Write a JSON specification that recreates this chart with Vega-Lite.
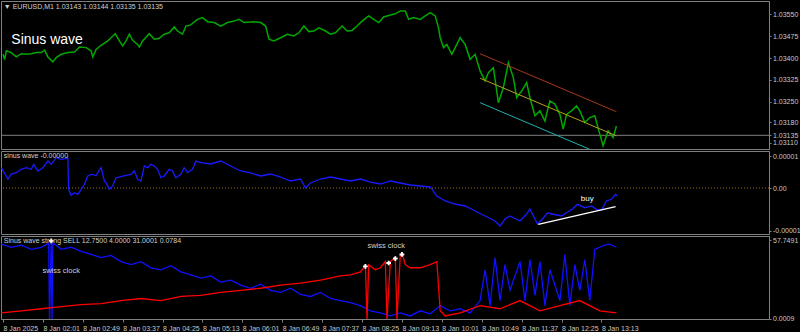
{
  "$schema": "https://vega.github.io/schema/vega-lite/v6.json",
  "background": "#000000",
  "padding": 0,
  "spacing": 2,
  "bounds": "flush",
  "config": {
    "view": {"stroke": "#808080", "fill": "#000000"},
    "axis": {"labelFont": "Liberation Sans", "labelFontSize": 7, "labelColor": "#c8c8c8", "tickColor": "#808080", "domainColor": "#808080", "grid": false, "title": null, "tickSize": 2, "labelPadding": 1.5, "labelOverlap": false, "labelFlush": false, "labelBound": false},
    "text": {"font": "Liberation Sans"}
  },
  "datasets": {
    "price": [
      {"t":73,"p":1.03413},{"t":75,"p":1.03395},{"t":77,"p":1.03425},{"t":83,"p":1.03419},{"t":89,"p":1.03404},{"t":95,"p":1.03415},{"t":101,"p":1.03413},{"t":107,"p":1.03415},{"t":113,"p":1.03419},{"t":119,"p":1.03419},{"t":123,"p":1.03427},{"t":127,"p":1.03404},{"t":133,"p":1.03387},{"t":137,"p":1.03402},{"t":143,"p":1.03413},{"t":151,"p":1.03419},{"t":159,"p":1.03421},{"t":165,"p":1.03438},{"t":173,"p":1.03436},{"t":179,"p":1.03425},{"t":181,"p":1.03404},{"t":185,"p":1.0343},{"t":191,"p":1.03444},{"t":199,"p":1.03459},{"t":208,"p":1.03484},{"t":213,"p":1.03459},{"t":217,"p":1.03442},{"t":221,"p":1.03459},{"t":225,"p":1.03482},{"t":229,"p":1.03461},{"t":235,"p":1.03447},{"t":237,"p":1.03438},{"t":241,"p":1.03459},{"t":249,"p":1.03484},{"t":255,"p":1.03465},{"t":261,"p":1.03468},{"t":267,"p":1.03482},{"t":273,"p":1.03487},{"t":279,"p":1.03507},{"t":283,"p":1.03493},{"t":289,"p":1.03482},{"t":293,"p":1.0351},{"t":299,"p":1.03514},{"t":307,"p":1.03533},{"t":313,"p":1.03539},{"t":319,"p":1.03525},{"t":327,"p":1.03522},{"t":335,"p":1.0351},{"t":343,"p":1.03522},{"t":351,"p":1.03527},{"t":357,"p":1.03533},{"t":363,"p":1.03522},{"t":375,"p":1.03525},{"t":383,"p":1.03522},{"t":389,"p":1.0351},{"t":393,"p":1.03465},{"t":399,"p":1.03459},{"t":407,"p":1.0347},{"t":415,"p":1.03482},{"t":423,"p":1.03476},{"t":429,"p":1.03487},{"t":435,"p":1.0351},{"t":441,"p":1.03491},{"t":447,"p":1.03493},{"t":453,"p":1.03504},{"t":461,"p":1.03493},{"t":467,"p":1.03482},{"t":473,"p":1.03487},{"t":481,"p":1.0351},{"t":487,"p":1.03493},{"t":493,"p":1.03495},{"t":499,"p":1.0351},{"t":505,"p":1.03527},{"t":513,"p":1.03545},{"t":519,"p":1.03533},{"t":525,"p":1.03522},{"t":531,"p":1.03541},{"t":539,"p":1.03548},{"t":545,"p":1.03552},{"t":551,"p":1.03562},{"t":557,"p":1.03562},{"t":561,"p":1.03533},{"t":567,"p":1.03539},{"t":575,"p":1.03533},{"t":581,"p":1.03545},{"t":587,"p":1.03556},{"t":593,"p":1.03545},{"t":597,"p":1.03504},{"t":599,"p":1.0347},{"t":603,"p":1.03436},{"t":607,"p":1.03447},{"t":613,"p":1.03413},{"t":617,"p":1.03436},{"t":623,"p":1.0347},{"t":629,"p":1.03447},{"t":635,"p":1.03396},{"t":641,"p":1.03413},{"t":647,"p":1.03356},{"t":653,"p":1.03322},{"t":657,"p":1.0335},{"t":663,"p":1.03367},{"t":669,"p":1.03247},{"t":675,"p":1.03299},{"t":681,"p":1.03384},{"t":687,"p":1.03333},{"t":691,"p":1.03264},{"t":697,"p":1.03287},{"t":703,"p":1.03316},{"t":707,"p":1.03264},{"t":713,"p":1.03202},{"t":719,"p":1.03219},{"t":725,"p":1.03184},{"t":731,"p":1.03253},{"t":737,"p":1.03242},{"t":743,"p":1.03207},{"t":747,"p":1.03156},{"t":751,"p":1.03207},{"t":757,"p":1.03219},{"t":763,"p":1.03236},{"t":767,"p":1.03219},{"t":773,"p":1.03179},{"t":779,"p":1.03196},{"t":785,"p":1.03202},{"t":791,"p":1.03139},{"t":795,"p":1.03099},{"t":801,"p":1.0315},{"t":807,"p":1.03127},{"t":811,"p":1.03167}
    ],
    "chan": [
      {"line":"upper","t":647,"p":1.03415},{"line":"upper","t":811,"p":1.03216},
      {"line":"mid","t":647,"p":1.03331},{"line":"mid","t":811,"p":1.03133},
      {"line":"lower","t":647,"p":1.03247},{"line":"lower","t":811,"p":1.03048}
    ],
    "last": [{"p":1.03135}],
    "notes1": [
      {"t":74,"p":1.0357,"txt":"▼ EURUSD,M1  1.03143 1.03144 1.03135 1.03135","kind":"small"},
      {"t":83,"p":1.03447,"txt":"Sinus wave","kind":"big"}
    ],
    "osc": [
      {"t":71,"s":0.58},{"t":79,"s":0.257},{"t":83,"s":0.4},{"t":89,"s":0.437},{"t":95,"s":0.534},{"t":101,"s":0.58},{"t":107,"s":0.534},{"t":110,"s":0.677},{"t":115,"s":0.486},{"t":121,"s":0.58},{"t":127,"s":0.771},{"t":131,"s":0.677},{"t":137,"s":0.866},{"t":143,"s":0.82},{"t":149,"s":0.837},{"t":151,"s":0.866},{"t":152,"s":-0.037},{"t":155,"s":-0.209},{"t":159,"s":-0.134},{"t":163,"s":-0.18},{"t":167,"s":-0.037},{"t":171,"s":0.106},{"t":175,"s":0.343},{"t":179,"s":0.391},{"t":185,"s":0.363},{"t":191,"s":0.58},{"t":195,"s":0.2},{"t":197,"s":0.151},{"t":201,"s":-0.037},{"t":205,"s":0.057},{"t":209,"s":0.294},{"t":215,"s":0.323},{"t":221,"s":0.363},{"t":227,"s":0.391},{"t":231,"s":0.486},{"t":235,"s":0.249},{"t":239,"s":0.2},{"t":243,"s":0.629},{"t":247,"s":0.58},{"t":251,"s":0.677},{"t":255,"s":0.629},{"t":259,"s":0.534},{"t":263,"s":0.294},{"t":267,"s":0.343},{"t":273,"s":0.534},{"t":277,"s":0.486},{"t":281,"s":0.294},{"t":287,"s":0.391},{"t":291,"s":0.58},{"t":295,"s":0.437},{"t":301,"s":0.534},{"t":305,"s":0.771},{"t":311,"s":0.723},{"t":323,"s":0.686},{"t":335,"s":0.771},{"t":347,"s":0.629},{"t":359,"s":0.486},{"t":371,"s":0.429},{"t":383,"s":0.343},{"t":395,"s":0.4},{"t":407,"s":0.314},{"t":419,"s":0.2},{"t":431,"s":0.257},{"t":437,"s":0},{"t":443,"s":0.143},{"t":455,"s":0.257},{"t":467,"s":0.314},{"t":479,"s":0.257},{"t":491,"s":0.2},{"t":503,"s":0.257},{"t":515,"s":0.171},{"t":527,"s":0.114},{"t":539,"s":0.2},{"t":551,"s":0.143},{"t":563,"s":0.086},{"t":575,"s":0.057},{"t":587,"s":0.029},{"t":595,"s":-0.229},{"t":605,"s":-0.371},{"t":617,"s":-0.457},{"t":629,"s":-0.514},{"t":641,"s":-0.657},{"t":653,"s":-0.8},{"t":665,"s":-0.943},{"t":671,"s":-1.086},{"t":677,"s":-0.886},{"t":683,"s":-0.8},{"t":695,"s":-0.943},{"t":703,"s":-0.743},{"t":707,"s":-0.6},{"t":713,"s":-0.886},{"t":716,"s":-1.029},{"t":722,"s":-0.886},{"t":728,"s":-0.714},{"t":734,"s":-0.743},{"t":745,"s":-0.8},{"t":751,"s":-0.706},{"t":758,"s":-0.609},{"t":764,"s":-0.466},{"t":773,"s":-0.563},{"t":781,"s":-0.514},{"t":787,"s":-0.609},{"t":793,"s":-0.637},{"t":799,"s":-0.371},{"t":805,"s":-0.323},{"t":810,"s":-0.18},{"t":812,"s":-0.229}
    ],
    "zero": [{"s":0}],
    "buyline": [{"t":717,"s":-1.037},{"t":810,"s":-0.534}],
    "notes2": [
      {"t":74,"s":0.857,"txt":"sinus wave -0.00000","kind":"small"},
      {"t":776,"s":-0.371,"txt":"buy","kind":"buy"}
    ],
    "strength": [
      {"k":"b","t":71,"v":54.75},{"k":"b","t":83,"v":52.5},{"k":"b","t":95,"v":54},{"k":"b","t":107,"v":51},{"k":"b","t":119,"v":52.5},{"k":"b","t":128,"v":55.5},{"k":"b","t":129,"v":0},{"k":"b","t":131,"v":56.25},{"k":"b","t":132,"v":0},{"k":"b","t":133,"v":55.5},{"k":"b","t":137,"v":54},{"k":"b","t":143,"v":51},{"k":"b","t":155,"v":52.5},{"k":"b","t":167,"v":49.5},{"k":"b","t":179,"v":47.25},{"k":"b","t":191,"v":45},{"k":"b","t":203,"v":46.5},{"k":"b","t":215,"v":42},{"k":"b","t":227,"v":39.75},{"k":"b","t":239,"v":42},{"k":"b","t":251,"v":37.5},{"k":"b","t":263,"v":36},{"k":"b","t":275,"v":39},{"k":"b","t":287,"v":34.5},{"k":"b","t":299,"v":32.25},{"k":"b","t":311,"v":30},{"k":"b","t":323,"v":31.5},{"k":"b","t":335,"v":27},{"k":"b","t":347,"v":28.5},{"k":"b","t":359,"v":24.75},{"k":"b","t":371,"v":22.5},{"k":"b","t":383,"v":25.5},{"k":"b","t":395,"v":21},{"k":"b","t":407,"v":19.5},{"k":"b","t":419,"v":22.5},{"k":"b","t":431,"v":18},{"k":"b","t":443,"v":16.5},{"k":"b","t":455,"v":19.5},{"k":"b","t":467,"v":15},{"k":"b","t":479,"v":13.5},{"k":"b","t":491,"v":12},{"k":"b","t":503,"v":9.75},{"k":"b","t":515,"v":6},{"k":"b","t":527,"v":4.5},{"k":"b","t":539,"v":2.25},{"k":"b","t":551,"v":4.5},{"k":"b","t":563,"v":2.25},{"k":"b","t":575,"v":6},{"k":"b","t":587,"v":3.75},{"k":"b","t":599,"v":9.75},{"k":"b","t":611,"v":6},{"k":"b","t":623,"v":7.5},{"k":"b","t":635,"v":4.5},{"k":"b","t":647,"v":13.5},{"k":"b","t":653,"v":36},{"k":"b","t":659,"v":9.75},{"k":"b","t":665,"v":45},{"k":"b","t":671,"v":13.5},{"k":"b","t":677,"v":39.75},{"k":"b","t":683,"v":21},{"k":"b","t":695,"v":42},{"k":"b","t":701,"v":13.5},{"k":"b","t":707,"v":43.5},{"k":"b","t":713,"v":17.25},{"k":"b","t":719,"v":42},{"k":"b","t":725,"v":9.75},{"k":"b","t":731,"v":36},{"k":"b","t":743,"v":13.5},{"k":"b","t":749,"v":47.25},{"k":"b","t":755,"v":9.75},{"k":"b","t":761,"v":39.75},{"k":"b","t":767,"v":21},{"k":"b","t":773,"v":43.5},{"k":"b","t":779,"v":13.5},{"k":"b","t":785,"v":51},{"k":"b","t":791,"v":52.5},{"k":"b","t":797,"v":54},{"k":"b","t":803,"v":54.75},{"k":"b","t":811,"v":52.5},
      {"k":"r","t":71,"v":4.5},{"k":"r","t":95,"v":6},{"k":"r","t":119,"v":7.5},{"k":"r","t":143,"v":9},{"k":"r","t":167,"v":10.5},{"k":"r","t":191,"v":11.25},{"k":"r","t":215,"v":13.5},{"k":"r","t":239,"v":15},{"k":"r","t":263,"v":13.5},{"k":"r","t":287,"v":16.5},{"k":"r","t":311,"v":17.25},{"k":"r","t":335,"v":19.5},{"k":"r","t":359,"v":21},{"k":"r","t":383,"v":22.5},{"k":"r","t":407,"v":24.75},{"k":"r","t":431,"v":26.25},{"k":"r","t":455,"v":28.5},{"k":"r","t":479,"v":31.5},{"k":"r","t":491,"v":32.25},{"k":"r","t":503,"v":34.5},{"k":"r","t":509,"v":39},{"k":"r","t":511,"v":0},{"k":"r","t":513,"v":39.75},{"k":"r","t":521,"v":36},{"k":"r","t":527,"v":37.5},{"k":"r","t":533,"v":42},{"k":"r","t":535,"v":0},{"k":"r","t":539,"v":42},{"k":"r","t":545,"v":45},{"k":"r","t":547,"v":0},{"k":"r","t":551,"v":47.25},{"k":"r","t":554,"v":46.5},{"k":"r","t":557,"v":39.75},{"k":"r","t":563,"v":37.5},{"k":"r","t":575,"v":37.5},{"k":"r","t":587,"v":39.75},{"k":"r","t":595,"v":42},{"k":"r","t":599,"v":6},{"k":"r","t":605,"v":2.25},{"k":"r","t":623,"v":4.5},{"k":"r","t":647,"v":9.75},{"k":"r","t":671,"v":7.5},{"k":"r","t":695,"v":13.5},{"k":"r","t":719,"v":6},{"k":"r","t":743,"v":9.75},{"k":"r","t":767,"v":13.5},{"k":"r","t":791,"v":6},{"k":"r","t":811,"v":4.5}
    ],
    "stars": [
      {"t":131,"v":57.2},{"t":509,"v":38.5},{"t":537,"v":41},{"t":545,"v":44.25},{"t":553,"v":47.25}
    ],
    "notes3": [
      {"t":74,"v":55.5,"txt":"Sinus wave strong  SELL 12.7500 4.0000 31.0001 0.0784","align":"left"},
      {"t":143,"v":33.75,"txt":"swiss clock","align":"center"},
      {"t":534,"v":51.75,"txt":"swiss clock","align":"center"}
    ]
  },
  "vconcat": [
    {
      "width": 768,
      "height": 148,
      "encoding": {
        "y": {"field": "p", "type": "quantitative", "scale": {"domain": [1.03088, 1.03596], "nice": false, "zero": false}, "axis": {"orient": "right", "values": [1.0355, 1.03475, 1.034, 1.03325, 1.0325, 1.0318, 1.03135, 1.0311], "format": ".5f", "labelOverlap": false}}
      },
      "layer": [
        {
          "data": {"name": "last"},
          "mark": {"type": "rule", "color": "#808080", "strokeWidth": 1},
          "encoding": {}
        },
        {
          "data": {"name": "price"},
          "mark": {"type": "line", "color": "#00a800", "strokeWidth": 1.5, "clip": true},
          "encoding": {
            "x": {"field": "t", "type": "quantitative", "scale": {"domain": [70.6, 994.6], "nice": false, "zero": false}, "axis": null}
          }
        },
        {
          "data": {"name": "chan"},
          "mark": {"type": "line", "strokeWidth": 1, "clip": true},
          "encoding": {
            "x": {"field": "t", "type": "quantitative"},
            "color": {"field": "line", "type": "nominal", "scale": {"domain": ["upper", "mid", "lower"], "range": ["#a8361c", "#b8a020", "#20b0b0"]}, "legend": null}
          }
        },
        {
          "data": {"name": "notes1"},
          "transform": [{"filter": "datum.kind == 'small'"}],
          "mark": {"type": "text", "align": "left", "baseline": "alphabetic", "fontSize": 7, "color": "#d0d0d0"},
          "encoding": {"x": {"field": "t", "type": "quantitative"}, "text": {"field": "txt"}}
        },
        {
          "data": {"name": "notes1"},
          "transform": [{"filter": "datum.kind == 'big'"}],
          "mark": {"type": "text", "align": "left", "baseline": "alphabetic", "fontSize": 14, "color": "#ffffff"},
          "encoding": {"x": {"field": "t", "type": "quantitative"}, "text": {"field": "txt"}}
        }
      ]
    },
    {
      "width": 768,
      "height": 83,
      "encoding": {
        "y": {"field": "s", "type": "quantitative", "scale": {"domain": [-1.314, 1.057], "nice": false, "zero": false}, "axis": {"orient": "right", "values": [0.914, 0, -1.22], "labelOverlap": false, "labelExpr": "datum.value > 0.5 ? '0.00001' : (datum.value < -0.5 ? '-0.00001' : '0.00')"}}
      },
      "layer": [
        {
          "data": {"name": "zero"},
          "mark": {"type": "rule", "color": "#a07020", "strokeDash": [1, 2], "strokeWidth": 1},
          "encoding": {}
        },
        {
          "data": {"name": "osc"},
          "mark": {"type": "line", "color": "#1a1aff", "strokeWidth": 1.3, "clip": true},
          "encoding": {
            "x": {"field": "t", "type": "quantitative", "scale": {"domain": [70.6, 994.6], "nice": false, "zero": false}, "axis": null}
          }
        },
        {
          "data": {"name": "buyline"},
          "mark": {"type": "line", "color": "#ffffff", "strokeWidth": 1.3},
          "encoding": {"x": {"field": "t", "type": "quantitative"}}
        },
        {
          "data": {"name": "notes2"},
          "transform": [{"filter": "datum.kind == 'small'"}],
          "mark": {"type": "text", "align": "left", "baseline": "alphabetic", "fontSize": 7, "color": "#d0d0d0"},
          "encoding": {"x": {"field": "t", "type": "quantitative"}, "text": {"field": "txt"}}
        },
        {
          "data": {"name": "notes2"},
          "transform": [{"filter": "datum.kind == 'buy'"}],
          "mark": {"type": "text", "align": "center", "baseline": "alphabetic", "fontSize": 8, "color": "#ffffff"},
          "encoding": {"x": {"field": "t", "type": "quantitative"}, "text": {"field": "txt"}}
        }
      ]
    },
    {
      "width": 768,
      "height": 83,
      "encoding": {
        "x": {"field": "t", "type": "quantitative", "scale": {"domain": [70.6, 994.6], "nice": false, "zero": false}, "axis": {"orient": "bottom", "values": [73, 121, 169, 217, 265, 313, 361, 409, 457, 505, 553, 601, 649, 697, 745, 793], "labelAlign": "left", "labelPadding": 2, "tickSize": 3, "domain": false, "labelOverlap": false, "labelExpr": "datum.value == 73 ? '8 Jan 2025' : '8 Jan ' + (datum.value < 600 ? '0' : '') + floor(datum.value / 60) + ':' + (datum.value % 60 < 10 ? '0' : '') + (datum.value % 60)"}},
        "y": {"field": "v", "type": "quantitative", "scale": {"domain": [0, 60.75], "nice": false, "zero": false}, "axis": {"orient": "right", "values": [57.7491, 0.0009], "format": ".4f", "labelOverlap": false}}
      },
      "layer": [
        {
          "data": {"name": "strength"},
          "transform": [{"filter": "datum.k == 'b'"}],
          "mark": {"type": "line", "color": "#1010ff", "strokeWidth": 1.3, "clip": true}
        },
        {
          "data": {"name": "strength"},
          "transform": [{"filter": "datum.k == 'r'"}],
          "mark": {"type": "line", "color": "#ff0000", "strokeWidth": 1.3, "clip": true}
        },
        {
          "data": {"name": "stars"},
          "mark": {"type": "point", "shape": "cross", "filled": true, "color": "#ffffff", "size": 22, "opacity": 1}
        },
        {
          "data": {"name": "notes3"},
          "transform": [{"filter": "datum.align == 'left'"}],
          "mark": {"type": "text", "align": "left", "baseline": "alphabetic", "fontSize": 7, "color": "#d0d0d0"},
          "encoding": {"text": {"field": "txt"}}
        },
        {
          "data": {"name": "notes3"},
          "transform": [{"filter": "datum.align == 'center'"}],
          "mark": {"type": "text", "align": "center", "baseline": "alphabetic", "fontSize": 7.5, "color": "#d0d0d0"},
          "encoding": {"text": {"field": "txt"}}
        }
      ]
    }
  ]
}
